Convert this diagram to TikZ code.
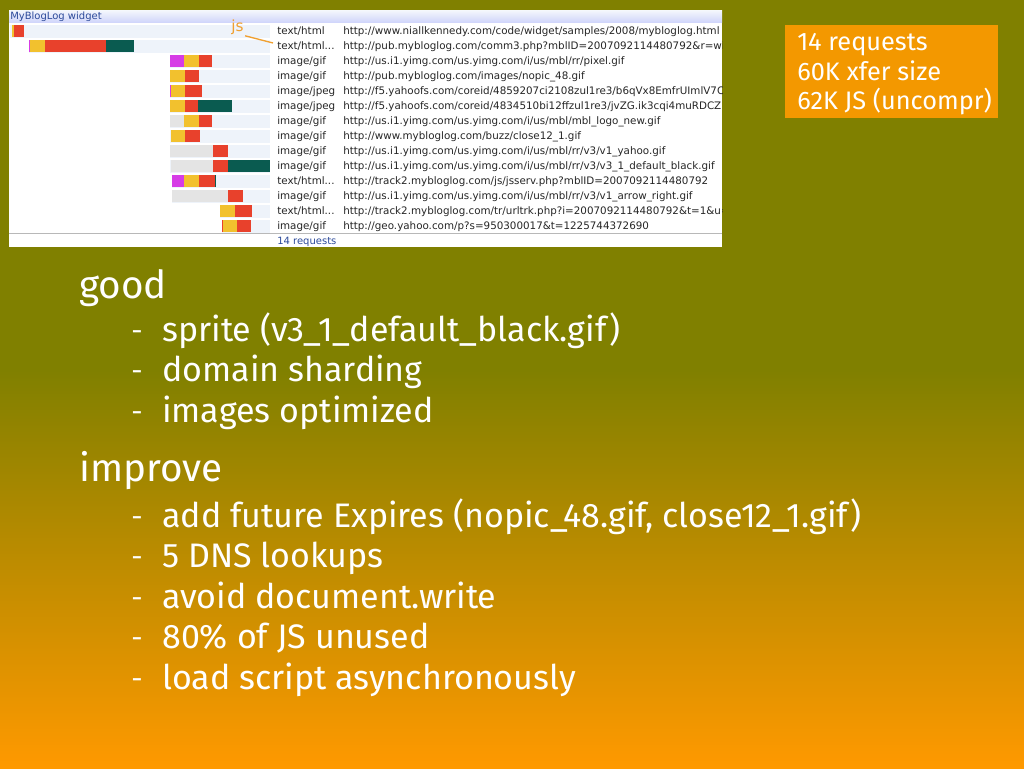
\documentclass[tikz,border=0pt]{standalone}
\usepackage{fontspec}
\setmainfont{Fira Sans}
\newfontfamily\panelfont{DejaVu Sans}
\definecolor{olivebg}{HTML}{808000}
\definecolor{orangebg}{HTML}{FF9900}
\definecolor{boxorange}{HTML}{F39800}
\definecolor{goldseg}{HTML}{F2C12E}
\definecolor{redseg}{HTML}{E8412C}
\definecolor{tealseg}{HTML}{0A5B50}
\definecolor{magseg}{HTML}{D63CE6}
\definecolor{greyseg}{HTML}{E4E4E4}
\definecolor{bandcol}{HTML}{EEF3FA}
\definecolor{titleblue}{HTML}{2C4A9A}
\definecolor{jsorange}{HTML}{F0A030}
\newcommand\barseg[4]{\fill[#1] (#2,#4-6) rectangle (#3,#4+6);}
\newcommand\band[2]{\fill[bandcol] (#1,#2-6.5) rectangle (270,#2+6.5);}
\tikzset{
  head/.style={anchor=base west, text=white, inner sep=0pt, font=\fontsize{29}{32}\selectfont},
  item/.style={anchor=base west, text=white, inner sep=0pt, font=\fontsize{25.5}{28}\selectfont},
  dashitem/.style={anchor=base west, text=white, inner sep=0pt, font=\fontsize{21}{24}\selectfont},
  boxtext/.style={anchor=base west, text=white, inner sep=0pt, font=\fontsize{19}{22}\selectfont},
  mime/.style={anchor=base west, inner sep=0pt, text=black!85, font=\panelfont\fontsize{7.75}{9}\selectfont},
  titletext/.style={anchor=base west, inner sep=0pt, text=titleblue, font=\panelfont\fontsize{7.5}{9}\selectfont},
  jslabel/.style={anchor=base west, inner sep=0pt, text=jsorange, font=\panelfont\fontsize{11.5}{13}\selectfont},
  jsline/.style={draw=jsorange, line width=1pt},
  statbox/.style={fill=boxorange, inner sep=0pt, minimum width=213*0.75pt, minimum height=93*0.75pt},
}
\begin{document}
\begin{tikzpicture}[x=0.75pt,y=-0.75pt]
\useasboundingbox (0,0) rectangle (1024,768);
% background
\fill[olivebg] (0,0) rectangle (1024,371);
\shade[top color=olivebg, bottom color=orangebg] (0,370) rectangle (1024,768);

% screenshot panel
\fill[white] (9,10) rectangle (722,247);
\begin{scope}
\clip (9,10) rectangle (722,247);
\shade[top color=white!40!bandcol, bottom color=blue!12!bandcol] (9,10) rectangle (722,22);
\node[titletext] (title) at (10,19.5) {MyBlogLog widget};
% row bands
\band{10}{31} \band{29}{46} \band{170}{61} \band{170}{76} \band{170}{91}
\band{170}{106} \band{170}{121} \band{170}{136} \band{170}{151} \band{170}{166}
\band{172}{181} \band{172}{196} \band{220}{211} \band{222}{226}
% bars
\barseg{goldseg}{12}{14}{31} \barseg{redseg}{14}{24}{31}
\barseg{magseg}{29}{30}{46} \barseg{goldseg}{30}{45}{46} \barseg{redseg}{45}{106}{46} \barseg{tealseg}{106}{134}{46}
\barseg{magseg}{170}{184}{61} \barseg{goldseg}{184}{199}{61} \barseg{redseg}{199}{212}{61}
\barseg{goldseg}{170}{185}{76} \barseg{redseg}{185}{199}{76}
\barseg{magseg}{170}{171}{91} \barseg{goldseg}{171}{185}{91} \barseg{redseg}{185}{202}{91}
\barseg{goldseg}{170}{185}{106} \barseg{redseg}{185}{198}{106} \barseg{tealseg}{198}{232}{106}
\barseg{greyseg}{170}{184}{121} \barseg{goldseg}{184}{199}{121} \barseg{redseg}{199}{212}{121}
\barseg{goldseg}{171}{185}{136} \barseg{redseg}{185}{200}{136}
\barseg{greyseg}{170}{213}{151} \barseg{redseg}{213}{228}{151}
\barseg{greyseg}{171}{213}{166} \barseg{redseg}{213}{228}{166} \barseg{tealseg}{228}{270}{166}
\barseg{magseg}{172}{184}{181} \barseg{goldseg}{184}{199}{181} \barseg{redseg}{199}{215}{181} \barseg{tealseg}{215}{216}{181}
\barseg{greyseg}{172}{228}{196} \barseg{redseg}{228}{243}{196}
\barseg{goldseg}{220}{235}{211} \barseg{redseg}{235}{252}{211}
\barseg{redseg}{222}{223}{226} \barseg{goldseg}{223}{237}{226} \barseg{redseg}{237}{251}{226}
% mime types
\node[mime] (t1)  at (277,34.5)  {text/html};
\node[mime] (t2)  at (277,49.5)  {text/html...};
\node[mime] (t3)  at (277,64.5)  {image/gif};
\node[mime] (t4)  at (277,79.5)  {image/gif};
\node[mime] (t5)  at (277,94.5)  {image/jpeg};
\node[mime] (t6)  at (277,109.5) {image/jpeg};
\node[mime] (t7)  at (277,124.5) {image/gif};
\node[mime] (t8)  at (277,139.5) {image/gif};
\node[mime] (t9)  at (277,154.5) {image/gif};
\node[mime] (t10) at (277,169.5) {image/gif};
\node[mime] (t11) at (277,184.5) {text/html...};
\node[mime] (t12) at (277,199.5) {image/gif};
\node[mime] (t13) at (277,214.5) {text/html...};
\node[mime] (t14) at (277,229.5) {image/gif};
% urls
\node[mime] (u1)  at (343,34.5)  {http://www.niallkennedy.com/code/widget/samples/2008/mybloglog.html};
\node[mime] (u2)  at (343,49.5)  {http://pub.mybloglog.com/comm3.php?mblID=2007092114480792\&r=wid};
\node[mime] (u3)  at (343,64.5)  {http://us.i1.yimg.com/us.yimg.com/i/us/mbl/rr/pixel.gif};
\node[mime] (u4)  at (343,79.5)  {http://pub.mybloglog.com/images/nopic\_48.gif};
\node[mime] (u5)  at (343,94.5)  {http://f5.yahoofs.com/coreid/4859207ci2108zul1re3/b6qVx8EmfrUImlV7C};
\node[mime] (u6)  at (343,109.5) {http://f5.yahoofs.com/coreid/4834510bi12ffzul1re3/jvZG.ik3cqi4muRDCZ};
\node[mime] (u7)  at (343,124.5) {http://us.i1.yimg.com/us.yimg.com/i/us/mbl/mbl\_logo\_new.gif};
\node[mime] (u8)  at (343,139.5) {http://www.mybloglog.com/buzz/close12\_1.gif};
\node[mime] (u9)  at (343,154.5) {http://us.i1.yimg.com/us.yimg.com/i/us/mbl/rr/v3/v1\_yahoo.gif};
\node[mime] (u10) at (343,169.5) {http://us.i1.yimg.com/us.yimg.com/i/us/mbl/rr/v3/v3\_1\_default\_black.gif};
\node[mime] (u11) at (343,184.5) {http://track2.mybloglog.com/js/jsserv.php?mblID=2007092114480792};
\node[mime] (u12) at (343,199.5) {http://us.i1.yimg.com/us.yimg.com/i/us/mbl/rr/v3/v1\_arrow\_right.gif};
\node[mime] (u13) at (343,214.5) {http://track2.mybloglog.com/tr/urltrk.php?i=2007092114480792\&t=1\&u=};
\node[mime] (u14) at (343,229.5) {http://geo.yahoo.com/p?s=950300017\&t=1225744372690};
% footer
\draw[black!28] (9,233.5) -- (722,233.5);
\node[titletext] (footer) at (277,244) {14 requests};
% js annotation
\node[jslabel] (js) at (231,31) {js};
\coordinate (jsend) at (273,43);
\draw[jsline] ([xshift=1pt,yshift=-1pt]js.south east) -- (jsend);
\end{scope}

% stats box
\node[statbox] (stats) at (891.5,71.5) {};
\node[boxtext] (s1) at (797,50) {14 requests};
\node[boxtext] (s2) at (797,80) {60K xfer size};
\node[boxtext] (s3) at (797,109) {62K JS (uncompr)};

% bullet text
\node[head] (good) at (79,298) {good};
\node[dashitem] (g1d) at (131,340) {-};
\node[item] (g1) at (162,341) {sprite (v3\_1\_default\_black.gif)};
\node[dashitem] (g2d) at (131,380) {-};
\node[item] (g2) at (162,381) {domain sharding};
\node[dashitem] (g3d) at (131,421) {-};
\node[item] (g3) at (162,422) {images optimized};

\node[head] (improve) at (79,481) {improve};
\node[dashitem] (i1d) at (131,526) {-};
\node[item] (i1) at (162,527) {add future Expires (nopic\_48.gif, close12\_1.gif)};
\node[dashitem] (i2d) at (131,566) {-};
\node[item] (i2) at (162,567) {5 DNS lookups};
\node[dashitem] (i3d) at (131,607) {-};
\node[item] (i3) at (162,608) {avoid document.write};
\node[dashitem] (i4d) at (131,647) {-};
\node[item] (i4) at (162,648) {80\% of JS unused};
\node[dashitem] (i5d) at (131,688) {-};
\node[item] (i5) at (162,689) {load script asynchronously};
\end{tikzpicture}
\end{document}
